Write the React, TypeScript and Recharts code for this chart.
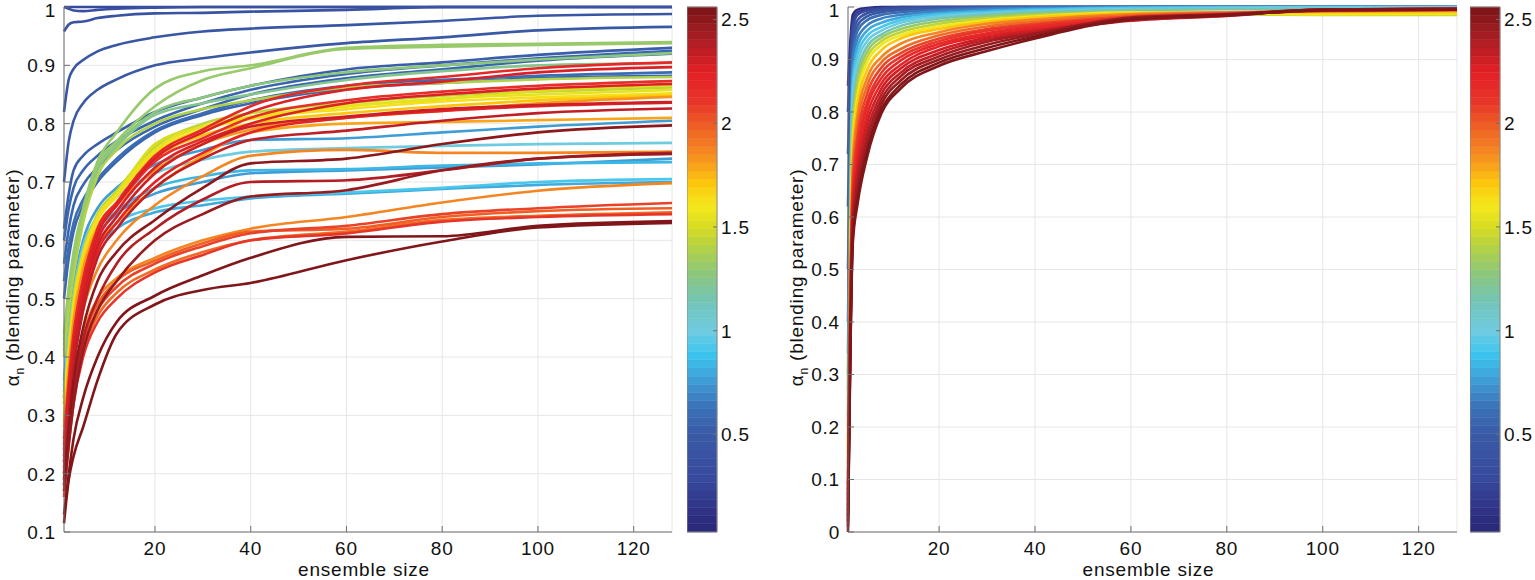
import React from 'react';
import { LineChart, Line, XAxis, YAxis, CartesianGrid, ReferenceArea, Label } from 'recharts';

const FONT = '"Liberation Sans", Arial, Helvetica, sans-serif';

const X_GRID = [1, 2, 3, 5, 8, 12, 20, 30, 40, 60, 80, 100, 128];
const X_TICKS = [20, 40, 60, 80, 100, 120];
const LEFT_Y_TICKS = [0.1, 0.2, 0.3, 0.4, 0.5, 0.6, 0.7, 0.8, 0.9, 1];
const RIGHT_Y_TICKS = [0, 0.1, 0.2, 0.3, 0.4, 0.5, 0.6, 0.7, 0.8, 0.9, 1];
const CBAR_TICKS = [0.5, 1, 1.5, 2, 2.5];
const CBAR_RANGE = [0.03, 2.56];
const CBAR_LEVELS = 64;

const COLOR_STOPS: [number, string][] = [
  [0.03, '#2a2776'], [0.11, '#2e2f82'], [0.29, '#384a9e'], [0.5, '#3a5aa6'],
  [0.63, '#3b72b8'], [0.72, '#3e8fcc'], [0.79, '#3fa7dc'], [0.89, '#3cc6ef'],
  [1.0, '#6fcbe0'], [1.14, '#72c5b8'], [1.28, '#8dc77a'], [1.43, '#bdd43a'],
  [1.5, '#d8dc22'], [1.6, '#f4e81b'], [1.71, '#fcc70b'], [1.8, '#f7a01b'],
  [1.89, '#f37d21'], [2.0, '#ee5a25'], [2.1, '#e8362a'], [2.24, '#e42027'],
  [2.42, '#a51d22'], [2.56, '#7a1517'],
];

// parameter value (colour) of each curve, left panel
const LEFT_PARAMS = [
  0.30, 0.35, 0.40, 0.45, 0.50, 0.52, 0.55, 0.57, 0.58, 0.60,
  0.75, 0.78, 0.82, 0.85, 0.90, 1.00,
  1.25, 1.28, 1.30, 1.32, 1.38,
  1.45, 1.50, 1.55, 1.62, 1.70,
  1.78, 1.82, 1.85, 1.88, 1.95, 2.00, 2.05, 2.10,
  2.15, 2.20, 2.22, 2.25, 2.28, 2.30, 2.35, 2.40,
  2.45, 2.50, 2.55, 2.56,
];

// values at X_GRID for each curve, left panel
const LEFT_LINES = [
  [1, 1, 1, 1, 1, 1, 1, 1, 1, 1, 1, 1, 1],
  [1, 0.997, 0.994, 0.993, 0.995, 0.997, 0.999, 1, 1, 1, 1, 1, 1],
  [0.958, 0.97, 0.974, 0.975, 0.981, 0.985, 0.989, 0.99, 0.992, 0.995, 1, 1, 1],
  [0.82, 0.876, 0.894, 0.909, 0.924, 0.935, 0.948, 0.958, 0.963, 0.969, 0.976, 0.985, 0.988],
  [0.70, 0.77, 0.805, 0.835, 0.858, 0.876, 0.9, 0.912, 0.922, 0.938, 0.948, 0.96, 0.966],
  [0.62, 0.68, 0.72, 0.745, 0.765, 0.785, 0.82, 0.845, 0.865, 0.893, 0.905, 0.918, 0.93],
  [0.6, 0.655, 0.69, 0.72, 0.745, 0.77, 0.805, 0.835, 0.858, 0.885, 0.9, 0.912, 0.925],
  [0.56, 0.62, 0.66, 0.695, 0.725, 0.755, 0.795, 0.825, 0.85, 0.878, 0.893, 0.908, 0.92],
  [0.5, 0.57, 0.615, 0.66, 0.70, 0.735, 0.785, 0.815, 0.835, 0.86, 0.87, 0.878, 0.882],
  [0.53, 0.59, 0.63, 0.67, 0.705, 0.74, 0.788, 0.818, 0.84, 0.865, 0.875, 0.882, 0.888],
  [0.36, 0.45, 0.52, 0.6, 0.655, 0.69, 0.73, 0.755, 0.772, 0.775, 0.785, 0.795, 0.805],
  [0.33, 0.42, 0.49, 0.56, 0.61, 0.645, 0.68, 0.70, 0.715, 0.72, 0.725, 0.73, 0.74],
  [0.32, 0.41, 0.48, 0.55, 0.59, 0.62, 0.648, 0.66, 0.672, 0.68, 0.688, 0.695, 0.70],
  [0.34, 0.43, 0.5, 0.575, 0.62, 0.65, 0.69, 0.71, 0.72, 0.722, 0.728, 0.732, 0.734],
  [0.33, 0.42, 0.49, 0.56, 0.6, 0.63, 0.655, 0.668, 0.675, 0.682, 0.69, 0.7, 0.705],
  [0.35, 0.44, 0.51, 0.59, 0.64, 0.675, 0.715, 0.738, 0.752, 0.758, 0.762, 0.765, 0.767],
  [0.41, 0.49, 0.55, 0.64, 0.72, 0.76, 0.815, 0.835, 0.85, 0.875, 0.89, 0.9, 0.904],
  [0.42, 0.5, 0.56, 0.645, 0.725, 0.765, 0.82, 0.845, 0.865, 0.888, 0.9, 0.91, 0.921],
  [0.44, 0.52, 0.58, 0.655, 0.735, 0.785, 0.86, 0.89, 0.9, 0.93, 0.935, 0.937, 0.94],
  [0.43, 0.51, 0.57, 0.65, 0.73, 0.77, 0.83, 0.875, 0.895, 0.928, 0.932, 0.935, 0.938],
  [0.40, 0.48, 0.54, 0.63, 0.71, 0.755, 0.80, 0.825, 0.84, 0.862, 0.87, 0.876, 0.88],
  [0.33, 0.42, 0.5, 0.58, 0.645, 0.685, 0.76, 0.8, 0.818, 0.835, 0.848, 0.855, 0.862],
  [0.32, 0.41, 0.49, 0.575, 0.64, 0.68, 0.765, 0.795, 0.81, 0.83, 0.842, 0.856, 0.866],
  [0.32, 0.41, 0.49, 0.575, 0.64, 0.68, 0.755, 0.795, 0.812, 0.83, 0.843, 0.85, 0.858],
  [0.3, 0.4, 0.48, 0.57, 0.635, 0.675, 0.75, 0.79, 0.808, 0.825, 0.838, 0.845, 0.852],
  [0.29, 0.39, 0.47, 0.56, 0.625, 0.665, 0.74, 0.78, 0.8, 0.818, 0.83, 0.84, 0.848],
  [0.26, 0.35, 0.43, 0.52, 0.59, 0.63, 0.69, 0.745, 0.785, 0.80, 0.803, 0.806, 0.81],
  [0.28, 0.38, 0.46, 0.55, 0.62, 0.66, 0.72, 0.765, 0.79, 0.81, 0.822, 0.835, 0.846],
  [0.2, 0.29, 0.36, 0.44, 0.5, 0.535, 0.57, 0.6, 0.62, 0.64, 0.665, 0.685, 0.698],
  [0.22, 0.31, 0.39, 0.48, 0.55, 0.6, 0.66, 0.71, 0.745, 0.755, 0.75, 0.75, 0.752],
  [0.17, 0.26, 0.33, 0.41, 0.47, 0.51, 0.55, 0.58, 0.6, 0.615, 0.635, 0.642, 0.648],
  [0.19, 0.28, 0.35, 0.43, 0.49, 0.53, 0.565, 0.595, 0.615, 0.62, 0.64, 0.65, 0.655],
  [0.18, 0.27, 0.34, 0.42, 0.48, 0.52, 0.56, 0.59, 0.612, 0.625, 0.645, 0.655, 0.664],
  [0.16, 0.25, 0.32, 0.4, 0.46, 0.5, 0.545, 0.575, 0.6, 0.612, 0.632, 0.64, 0.645],
  [0.26, 0.36, 0.44, 0.535, 0.615, 0.66, 0.735, 0.775, 0.81, 0.84, 0.855, 0.865, 0.873],
  [0.25, 0.35, 0.43, 0.53, 0.62, 0.665, 0.745, 0.79, 0.83, 0.865, 0.88, 0.895, 0.905],
  [0.21, 0.31, 0.39, 0.49, 0.58, 0.63, 0.70, 0.75, 0.785, 0.81, 0.822, 0.83, 0.836],
  [0.24, 0.34, 0.42, 0.52, 0.61, 0.66, 0.74, 0.785, 0.82, 0.858, 0.872, 0.888, 0.897],
  [0.23, 0.33, 0.41, 0.51, 0.6, 0.65, 0.725, 0.77, 0.80, 0.835, 0.85, 0.86, 0.868],
  [0.22, 0.32, 0.4, 0.5, 0.59, 0.64, 0.715, 0.765, 0.795, 0.812, 0.825, 0.832, 0.837],
  [0.2, 0.3, 0.38, 0.48, 0.57, 0.62, 0.69, 0.74, 0.772, 0.788, 0.805, 0.818, 0.826],
  [0.18, 0.27, 0.34, 0.43, 0.5, 0.56, 0.62, 0.67, 0.70, 0.703, 0.72, 0.74, 0.75],
  [0.17, 0.25, 0.32, 0.41, 0.48, 0.53, 0.6, 0.645, 0.675, 0.686, 0.72, 0.74, 0.748],
  [0.19, 0.28, 0.36, 0.45, 0.53, 0.58, 0.635, 0.69, 0.732, 0.74, 0.765, 0.785, 0.797],
  [0.13, 0.2, 0.26, 0.33, 0.40, 0.46, 0.505, 0.54, 0.57, 0.606, 0.607, 0.625, 0.633],
  [0.115, 0.19, 0.23, 0.28, 0.36, 0.44, 0.49, 0.515, 0.527, 0.566, 0.598, 0.622, 0.63],
];

// parameter value (colour) of each curve, right panel
const RIGHT_PARAMS = [
  0.10, 0.20, 0.30, 0.40, 0.50, 0.60, 0.70, 0.80, 0.90, 1.00,
  1.15, 1.30, 1.45, 1.60, 1.72, 1.85, 1.95, 2.05, 2.12, 2.18,
  2.24, 2.30, 2.36, 2.42, 2.48, 2.53, 2.56,
];

// values at X_GRID for each curve, right panel
const RIGHT_LINES = [
  [0.85, 0.985, 0.995, 0.998, 1, 1, 1, 1, 1, 1, 1, 1, 1],
  [0.80, 0.975, 0.99, 0.996, 0.998, 1, 1, 1, 1, 1, 1, 1, 1],
  [0.72, 0.96, 0.985, 0.993, 0.997, 0.999, 1, 1, 1, 1, 1, 1, 1],
  [0.62, 0.945, 0.975, 0.988, 0.994, 0.997, 0.999, 1, 1, 1, 1, 1, 1],
  [0.50, 0.93, 0.965, 0.982, 0.99, 0.994, 0.997, 0.999, 1, 1, 1, 1, 1],
  [0.40, 0.91, 0.955, 0.975, 0.985, 0.99, 0.995, 0.998, 0.999, 1, 1, 1, 1],
  [0.34, 0.89, 0.94, 0.965, 0.978, 0.985, 0.992, 0.996, 0.998, 1, 1, 1, 1],
  [0.30, 0.87, 0.925, 0.955, 0.97, 0.98, 0.988, 0.993, 0.996, 0.999, 1, 1, 1],
  [0.27, 0.85, 0.91, 0.945, 0.962, 0.975, 0.985, 0.99, 0.994, 0.998, 0.999, 1, 1],
  [0.25, 0.83, 0.895, 0.935, 0.955, 0.97, 0.982, 0.988, 0.992, 0.996, 0.998, 0.999, 1],
  [0.22, 0.80, 0.875, 0.925, 0.948, 0.964, 0.978, 0.985, 0.99, 0.994, 0.996, 0.996, 0.995],
  [0.2, 0.78, 0.86, 0.915, 0.942, 0.958, 0.973, 0.982, 0.987, 0.99, 0.99, 0.988, 0.988],
  [0.18, 0.76, 0.845, 0.905, 0.935, 0.952, 0.968, 0.978, 0.984, 0.988, 0.986, 0.985, 0.985],
  [0.16, 0.74, 0.83, 0.895, 0.928, 0.946, 0.963, 0.975, 0.982, 0.99, 0.988, 0.986, 0.987],
  [0.15, 0.72, 0.815, 0.88, 0.918, 0.94, 0.958, 0.972, 0.98, 0.988, 0.99, 0.99, 0.99],
  [0.13, 0.70, 0.795, 0.865, 0.905, 0.93, 0.952, 0.968, 0.976, 0.986, 0.99, 0.992, 0.993],
  [0.11, 0.68, 0.775, 0.85, 0.895, 0.92, 0.946, 0.963, 0.972, 0.984, 0.989, 0.992, 0.994],
  [0.09, 0.66, 0.755, 0.835, 0.885, 0.912, 0.94, 0.958, 0.968, 0.982, 0.988, 0.993, 0.995],
  [0.08, 0.645, 0.74, 0.82, 0.875, 0.905, 0.935, 0.955, 0.965, 0.98, 0.987, 0.993, 0.996],
  [0.07, 0.63, 0.725, 0.81, 0.865, 0.898, 0.93, 0.95, 0.962, 0.978, 0.986, 0.994, 0.996],
  [0.06, 0.62, 0.71, 0.795, 0.855, 0.89, 0.925, 0.946, 0.958, 0.976, 0.985, 0.994, 0.997],
  [0.05, 0.61, 0.695, 0.78, 0.845, 0.883, 0.918, 0.942, 0.955, 0.975, 0.984, 0.995, 0.997],
  [0.04, 0.6, 0.68, 0.765, 0.835, 0.875, 0.912, 0.938, 0.952, 0.974, 0.983, 0.995, 0.997],
  [0.03, 0.585, 0.665, 0.75, 0.825, 0.868, 0.906, 0.934, 0.95, 0.978, 0.985, 0.995, 0.996],
  [0.02, 0.57, 0.65, 0.735, 0.815, 0.86, 0.9, 0.928, 0.948, 0.98, 0.986, 0.995, 0.996],
  [0.01, 0.56, 0.635, 0.725, 0.805, 0.852, 0.894, 0.922, 0.944, 0.977, 0.985, 0.994, 0.995],
  [0.0, 0.55, 0.625, 0.715, 0.798, 0.845, 0.888, 0.916, 0.94, 0.976, 0.984, 0.994, 0.995],
];

function hexToRgb(h: string): number[] {
  return [parseInt(h.slice(1, 3), 16), parseInt(h.slice(3, 5), 16), parseInt(h.slice(5, 7), 16)];
}

function interpColor(v: number): string {
  if (v <= COLOR_STOPS[0][0]) return COLOR_STOPS[0][1];
  for (let i = 1; i < COLOR_STOPS.length; i++) {
    const [v1, c1] = COLOR_STOPS[i];
    const [v0, c0] = COLOR_STOPS[i - 1];
    if (v <= v1) {
      const t = (v - v0) / (v1 - v0);
      const a = hexToRgb(c0);
      const b = hexToRgb(c1);
      const m = a.map((q, k) => Math.round(q + (b[k] - q) * t));
      return `rgb(${m[0]},${m[1]},${m[2]})`;
    }
  }
  return COLOR_STOPS[COLOR_STOPS.length - 1][1];
}

const BAND = (CBAR_RANGE[1] - CBAR_RANGE[0]) / CBAR_LEVELS;

function colorFor(c: number): string {
  let idx = Math.floor((c - CBAR_RANGE[0]) / BAND);
  idx = Math.max(0, Math.min(CBAR_LEVELS - 1, idx));
  return interpColor(CBAR_RANGE[0] + (idx + 0.5) * BAND);
}

const BANDS = Array.from({ length: CBAR_LEVELS }, (_, i) => ({
  lo: CBAR_RANGE[0] + i * BAND,
  hi: CBAR_RANGE[0] + (i + 1) * BAND,
  color: interpColor(CBAR_RANGE[0] + (i + 0.5) * BAND),
}));

const CBAR_DATA = [
  { x: 0, y: CBAR_RANGE[0] },
  { x: 1, y: CBAR_RANGE[1] },
];

function buildRows(lines: number[][]) {
  return X_GRID.map((x, i) => {
    const row: Record<string, number> = { x };
    lines.forEach((vals, j) => {
      row['s' + j] = vals[i];
    });
    return row;
  });
}

const AXIS_COLOR = '#6f6f6f';
const GRID_COLOR = '#e6e6e6';
const TEXT_COLOR = '#111';
const TICK_FS = 19;
const LABEL_FS = 19;
const LS = 0.8;

const XTick = (props: any) => {
  const { x, y, payload } = props;
  return (
    <g>
      <line x1={x} x2={x} y1={y} y2={y - 6} stroke={AXIS_COLOR} strokeWidth={1} />
      <text x={x} y={y + 23} textAnchor="middle" fontSize={TICK_FS} letterSpacing={LS} fontFamily={FONT} fill={TEXT_COLOR}>
        {payload.value}
      </text>
    </g>
  );
};

const YTick = (props: any) => {
  const { x, y, payload } = props;
  const ty = Math.max(y, 10);
  return (
    <g>
      <line x1={x} x2={x + 6} y1={y} y2={y} stroke={AXIS_COLOR} strokeWidth={1} />
      <text x={x - 8} y={ty} dy="0.36em" textAnchor="end" fontSize={TICK_FS} letterSpacing={LS} fontFamily={FONT} fill={TEXT_COLOR}>
        {String(payload.value)}
      </text>
    </g>
  );
};

const CTick = (props: any) => {
  const { x, y, payload } = props;
  return (
    <g>
      <line x1={x - 4} x2={x} y1={y} y2={y} stroke={AXIS_COLOR} strokeWidth={1} />
      <text x={x + 4} y={y} dy="0.36em" textAnchor="start" fontSize={TICK_FS} letterSpacing={LS} fontFamily={FONT} fill={TEXT_COLOR}>
        {String(payload.value)}
      </text>
    </g>
  );
};

const YLabelContent = (props: any) => {
  const vb = props.viewBox || { x: 0, y: 0, width: 64, height: 525 };
  const cx = vb.x + vb.width - 45;
  const cy = vb.y + vb.height / 2 + 8;
  return (
    <text
      x={cx}
      y={cy}
      transform={`rotate(-90, ${cx}, ${cy})`}
      textAnchor="middle"
      fontSize={LABEL_FS}
      letterSpacing={LS}
      fontFamily={FONT}
      fill={TEXT_COLOR}
    >
      <tspan>α</tspan>
      <tspan dy={5} fontSize={12}>n</tspan>
      <tspan dy={-5}> (blending parameter)</tspan>
    </text>
  );
};

const XLabelContent = (props: any) => {
  const vb = props.viewBox || { x: 0, y: 0, width: 600, height: 48 };
  return (
    <text x={vb.x + vb.width / 2 - 4} y={vb.y + 44} textAnchor="middle" fontSize={LABEL_FS} letterSpacing={LS} fontFamily={FONT} fill={TEXT_COLOR}>
      ensemble size
    </text>
  );
};

function Panel(props: { lines: number[][]; params: number[]; yDomain: number[]; yTicks: number[]; yAxisWidth: number; width: number }) {
  const { lines, params, yDomain, yTicks, yAxisWidth, width } = props;
  const rows = buildRows(lines);
  return (
    <LineChart width={width} height={580} data={rows} margin={{ top: 7, right: 8, bottom: 0, left: 0 }}>
      <CartesianGrid stroke={GRID_COLOR} strokeWidth={1} />
      <XAxis
        dataKey="x"
        type="number"
        domain={[1, 128]}
        ticks={X_TICKS}
        height={48}
        tickSize={0}
        tickMargin={0}
        tickLine={false}
        tick={<XTick />}
        axisLine={{ stroke: AXIS_COLOR, strokeWidth: 1 }}
        interval={0}
      >
        <Label content={<XLabelContent />} />
      </XAxis>
      <YAxis
        type="number"
        domain={yDomain}
        ticks={yTicks}
        width={yAxisWidth}
        tickSize={0}
        tickMargin={0}
        tickLine={false}
        tick={<YTick />}
        axisLine={{ stroke: AXIS_COLOR, strokeWidth: 1 }}
        interval={0}
      >
        <Label content={<YLabelContent />} />
      </YAxis>
      {lines.map((_, j) => (
        <Line
          key={'s' + j}
          dataKey={'s' + j}
          type="monotone"
          stroke={colorFor(params[j])}
          strokeWidth={2.6}
          strokeLinejoin="round"
          dot={false}
          activeDot={false}
          isAnimationActive={false}
        />
      ))}
    </LineChart>
  );
}

function ColorBar() {
  return (
    <LineChart width={80} height={580} data={CBAR_DATA} margin={{ top: 7, right: 10, bottom: 48, left: 0 }}>
      <XAxis dataKey="x" type="number" domain={[0, 1]} hide />
      <YAxis
        orientation="right"
        type="number"
        domain={CBAR_RANGE}
        allowDataOverflow
        ticks={CBAR_TICKS}
        width={40}
        tickSize={0}
        tickMargin={0}
        tickLine={false}
        axisLine={false}
        tick={<CTick />}
        interval={0}
      />
      {BANDS.map((b, i) => (
        <ReferenceArea key={i} x1={0} x2={1} y1={b.lo} y2={b.hi} fill={b.color} fillOpacity={1} stroke={b.color} strokeWidth={0.5} ifOverflow="visible" />
      ))}
      <ReferenceArea x1={0} x2={1} y1={CBAR_RANGE[0]} y2={CBAR_RANGE[1]} fill="none" fillOpacity={0} stroke="#8a8a8a" strokeWidth={1} ifOverflow="visible" />
      <Line dataKey="y" stroke="none" dot={false} activeDot={false} isAnimationActive={false} />
    </LineChart>
  );
}

export default function App() {
  return (
    <div style={{ position: 'absolute', left: 0, top: 0, width: 1535, height: 580, overflow: 'hidden', background: '#fff' }}>
      <div style={{ position: 'absolute', left: 0, top: 0 }}>
        <Panel lines={LEFT_LINES} params={LEFT_PARAMS} yDomain={[0.1, 1]} yTicks={LEFT_Y_TICKS} yAxisWidth={64} width={680} />
      </div>
      <div style={{ position: 'absolute', left: 687, top: 0 }}>
        <ColorBar />
      </div>
      <div style={{ position: 'absolute', left: 780, top: 0 }}>
        <Panel lines={RIGHT_LINES} params={RIGHT_PARAMS} yDomain={[0, 1]} yTicks={RIGHT_Y_TICKS} yAxisWidth={68} width={685} />
      </div>
      <div style={{ position: 'absolute', left: 1470, top: 0 }}>
        <ColorBar />
      </div>
    </div>
  );
}
